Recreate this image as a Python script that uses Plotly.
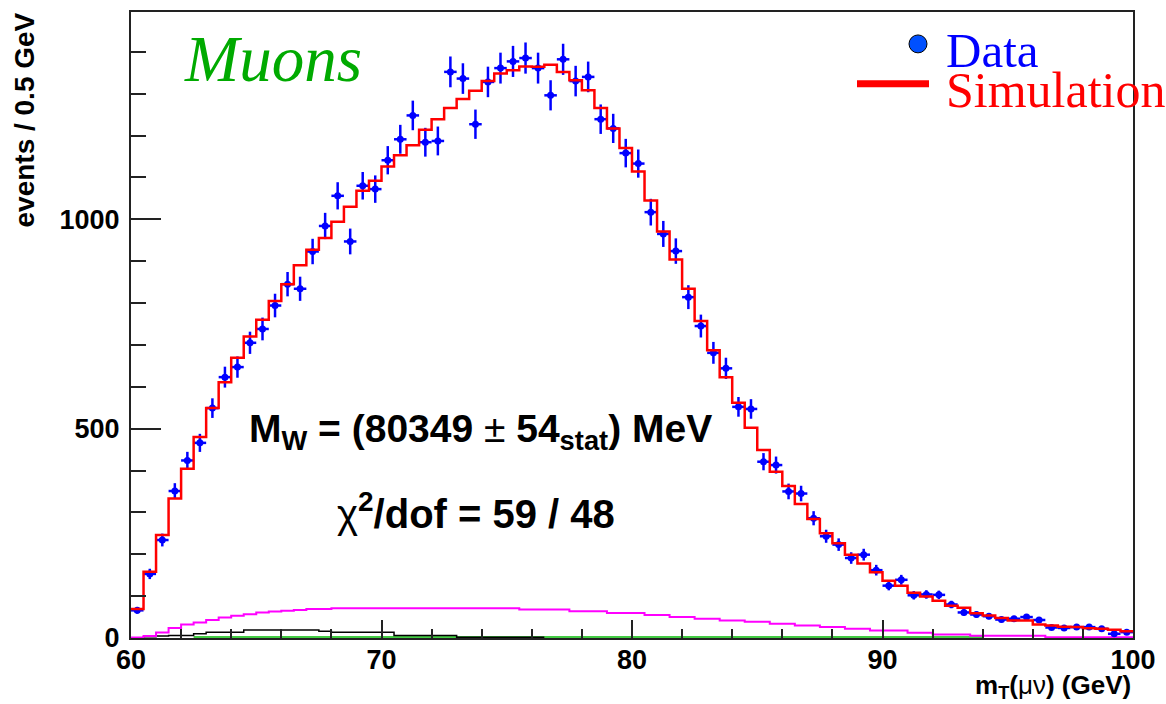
import numpy as np
import plotly.graph_objects as go

# ---------------- data (events per 0.5 GeV bin, 60-100 GeV) ----------------
bin_low = 60.0
bin_width = 0.5

data_counts = [66, 153, 234, 351, 424, 466, 549, 623, 647, 705,
               738, 794, 845, 834, 923, 984, 1056, 947, 1080, 1072,
               1141, 1191, 1248, 1184, 1187, 1352, 1336, 1227, 1328, 1361,
               1377, 1385, 1361, 1296, 1382, 1330, 1340, 1239, 1217, 1158,
               1133, 1017, 965, 924, 814, 745, 681, 644, 552, 547,
               421, 413, 350, 345, 286, 243, 223, 191, 199, 162,
               125, 139, 102, 104, 103, 80, 61, 56, 52, 44,
               46, 50, 43, 25, 24, 26, 26, 22, 10, 14]

sim_counts = [69, 158, 246, 333, 404, 480, 549, 611, 669, 720,
              760, 805, 845, 890, 927, 955, 994, 1030, 1068, 1092,
              1126, 1153, 1177, 1214, 1239, 1266, 1287, 1307, 1330, 1348,
              1356, 1365, 1364, 1369, 1352, 1332, 1308, 1266, 1217, 1170,
              1114, 1045, 971, 904, 834, 757, 687, 623, 562, 502,
              449, 397, 363, 320, 284, 250, 226, 199, 178, 157,
              137, 125, 108, 99, 89, 77, 72, 59, 54, 48,
              42, 42, 32, 30, 27, 26, 23, 22, 20, 16]

bkg_magenta = [1, 5, 13, 24, 32, 37, 43, 49, 53, 57,
               61, 63, 65, 67, 69, 69, 71, 71, 71, 71,
               71, 71, 71, 71, 71, 71, 71, 71, 71, 71,
               71, 68, 68, 68, 68, 64, 64, 64, 60, 60,
               60, 55, 55, 50, 50, 46, 46, 42, 42, 39,
               39, 34, 34, 30, 30, 26, 26, 22, 22, 18,
               18, 18, 12.5, 12.5, 8.5, 8.5, 8.5, 5.5, 5.5, 5.5,
               5.5, 5.5, 5.5, 1.6, 1.6, 1.6, 1.6, 1.6, 1.6, 1.6]

bkg_black = [0, 3, 5, 6, 6, 10, 14, 14, 14, 19,
             19, 19, 19, 19, 19, 16, 14, 14, 14, 14,
             14, 6, 6, 6, 6, 6, 1.8, 1.8, 1.8, 1.8,
             1.8, 1.8, 1.8]

bkg_green_start = 62.5
bkg_green = [2.5] * 63

x_ticks = [60, 70, 80, 90, 100]
y_ticks = [0, 500, 1000]

# ---------------- helpers ----------------
n = len(data_counts)
centers = bin_low + bin_width * (np.arange(n) + 0.5)
errs = np.sqrt(np.array(data_counts, dtype=float))


def step_xy(start, vals):
    edges = start + bin_width * np.arange(len(vals) + 1)
    return list(edges), list(vals) + [vals[-1]]


L, R, T, B = 131, 33, 10, 66
W, H = 1166, 704
pw, ph = W - L - R, H - T - B


def pxx(x):
    return (x - L) / pw


def pyy(y):
    return (H - B - y) / ph


fig = go.Figure()

# backgrounds
gx, gy = step_xy(bkg_green_start, bkg_green)
fig.add_trace(go.Scatter(x=gx, y=gy, mode="lines", line=dict(color="#44cc44", width=2, shape="hv"),
                         showlegend=False, hoverinfo="skip"))
bx, by = step_xy(bin_low, bkg_black)
fig.add_trace(go.Scatter(x=bx, y=by, mode="lines", line=dict(color="black", width=1.5, shape="hv"),
                         showlegend=False, hoverinfo="skip"))
mx, my = step_xy(bin_low, bkg_magenta)
fig.add_trace(go.Scatter(x=mx, y=my, mode="lines", line=dict(color="#ff00ff", width=2, shape="hv"),
                         showlegend=False, hoverinfo="skip"))

# data
fig.add_trace(go.Scatter(
    x=centers, y=data_counts, mode="markers",
    marker=dict(color="#0000ff", size=7),
    error_y=dict(type="data", array=errs, color="#0000ff", thickness=2.5, width=0),
    error_x=dict(type="constant", value=bin_width / 2, color="#0000ff", thickness=2.5, width=0),
    name="Data", showlegend=False))

# simulation
sx, sy = step_xy(bin_low, sim_counts)
fig.add_trace(go.Scatter(x=sx, y=sy, mode="lines", line=dict(color="#ff0000", width=2.5, shape="hv"),
                         name="Simulation", showlegend=False))

axis_common = dict(showline=True, linecolor="#222222", linewidth=2, mirror=True,
                   showgrid=False, zeroline=False, ticks="inside", tickcolor="#222222",
                   tickwidth=2,
                   tickfont=dict(family="Liberation Sans", size=27, color="black", weight="bold"))

fig.update_xaxes(range=[60, 100], tickvals=x_ticks, ticklen=18, ticklabelstandoff=-3,
                 minor=dict(dtick=2, ticks="inside", ticklen=9, tickcolor="#222222", tickwidth=1.5),
                 **axis_common)
fig.update_yaxes(range=[0, 1495], tickvals=y_ticks, ticklen=30, ticklabelstandoff=4,
                 minor=dict(dtick=100, ticks="inside", ticklen=15, tickcolor="#222222", tickwidth=1.5),
                 **axis_common)

P = dict(xref="paper", yref="paper", showarrow=False)
annotations = [
    dict(x=pxx(273), y=pyy(57), text="<i>Muons</i>",
         font=dict(family="Liberation Serif", size=65, color="#00aa00"),
         xanchor="center", yanchor="middle", **P),
    dict(x=pxx(480), y=pyy(431), text="<b>M<sub>W</sub> = (80349 </b>±<b> 54<sub>stat</sub>) MeV</b>",
         font=dict(family="Liberation Sans", size=39, color="black"),
         xanchor="center", yanchor="middle", **P),
    dict(x=pxx(476), y=pyy(511), text="χ<b><sup>2</sup>/dof = 59 / 48</b>",
         font=dict(family="Liberation Sans", size=40, color="black"),
         xanchor="center", yanchor="middle", **P),
    dict(x=pxx(25), y=pyy(9), text="<b>events / 0.5 GeV</b>", textangle=-90,
         font=dict(family="Liberation Sans", size=28, color="black"),
         xanchor="center", yanchor="top", **P),
    dict(x=pxx(1132), y=pyy(704), text="<b>m<sub>T</sub>(</b>μν<b>) (GeV)</b>",
         font=dict(family="Liberation Sans", size=26, color="black"), borderpad=0,
         xanchor="right", yanchor="bottom", **P),
    dict(x=pxx(944), y=pyy(49), text="Data",
         font=dict(family="Liberation Serif", size=49, color="#0000ff"),
         xanchor="left", yanchor="middle", **P),
    dict(x=pxx(944), y=pyy(88), text="Simulation",
         font=dict(family="Liberation Serif", size=50, color="#ff0000"),
         xanchor="left", yanchor="middle", **P),
]

shapes = [
    dict(type="circle", xref="paper", yref="paper",
         x0=pxx(909), x1=pxx(927), y0=pyy(51), y1=pyy(33),
         fillcolor="#0050ff", line=dict(color="black", width=1)),
    dict(type="line", xref="paper", yref="paper",
         x0=pxx(857), x1=pxx(929), y0=pyy(82), y1=pyy(82),
         line=dict(color="#ff0000", width=7)),
]

fig.update_layout(
    width=W, height=H,
    margin=dict(l=L, r=R, t=T, b=B, pad=0),
    paper_bgcolor="white", plot_bgcolor="white",
    annotations=annotations, shapes=shapes,
    showlegend=False,
)

fig.write_html("out.html")
